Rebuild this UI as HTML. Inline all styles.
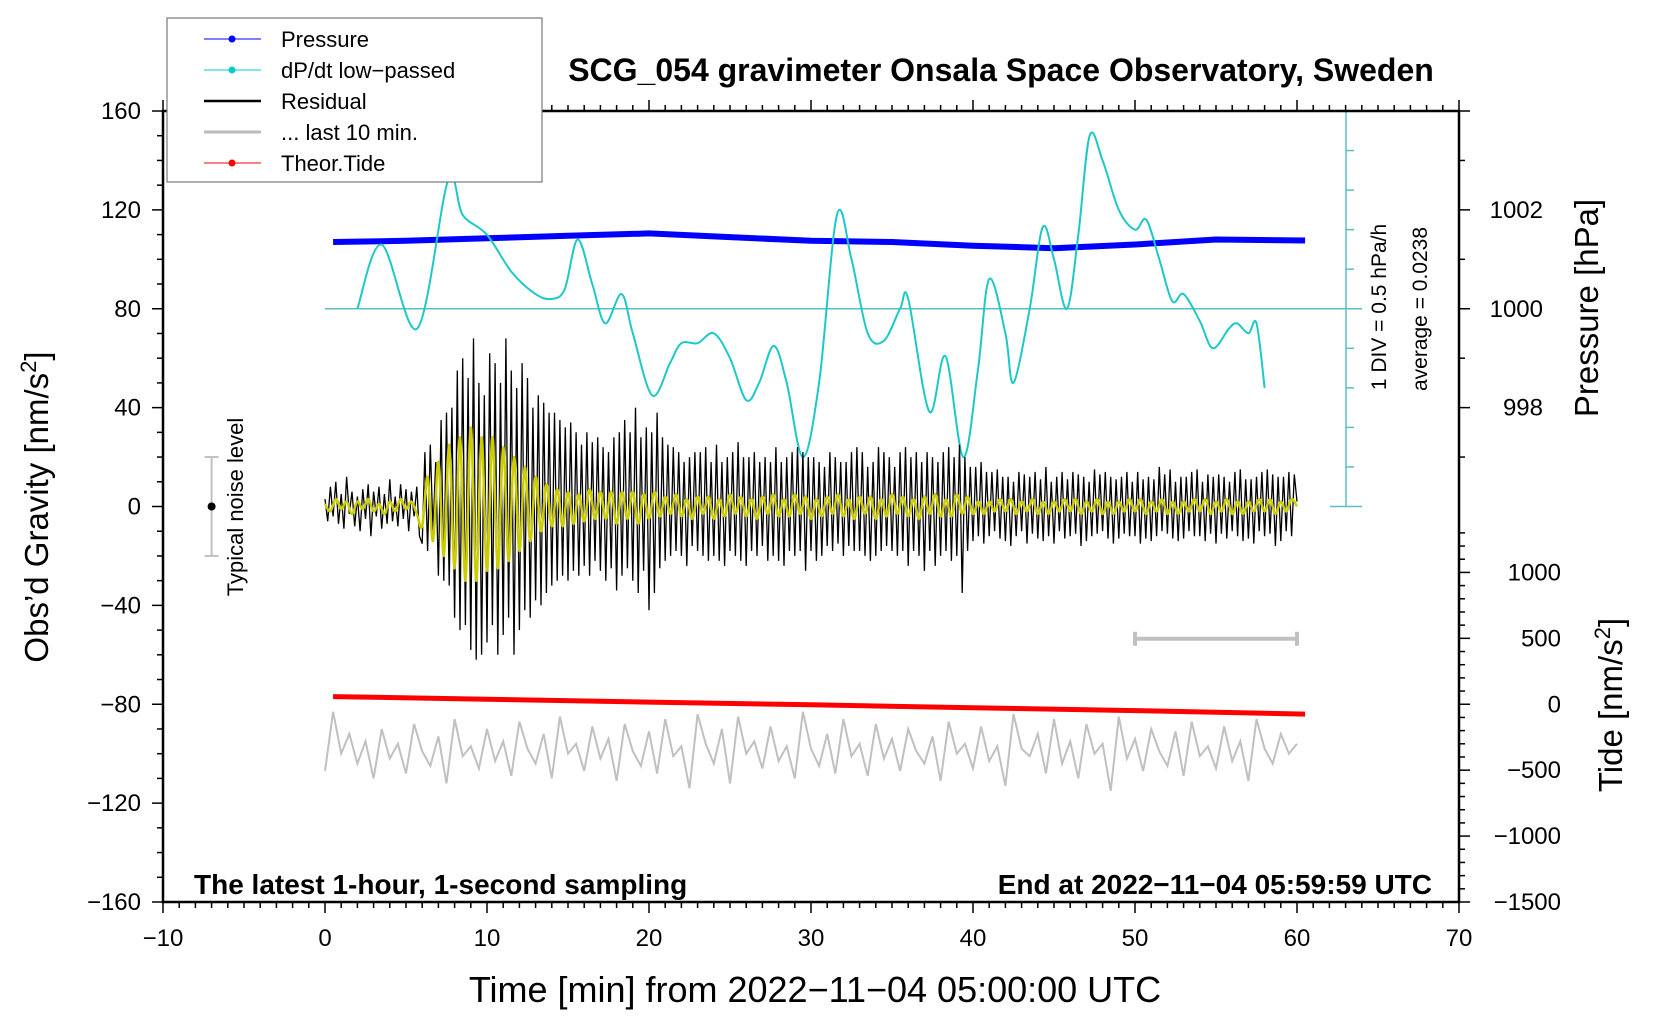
<!DOCTYPE html>
<html><head><meta charset="utf-8"><style>
html,body{margin:0;padding:0;background:#fff}
svg{display:block;font-family:"Liberation Sans",Arial,sans-serif}
</style></head><body>
<svg id="chart" width="1660" height="1020" viewBox="0 0 1660 1020" xmlns="http://www.w3.org/2000/svg">
<rect x="0" y="0" width="1660" height="1020" fill="#fff"/>
<g id="marks"></g>
<g id="axes"></g>
<text x="1001" y="81" font-size="32" font-weight="bold" text-anchor="middle">SCG_054 gravimeter Onsala Space Observatory, Sweden</text>
<text x="815" y="1002" font-size="36" text-anchor="middle">Time [min] from 2022−11−04 05:00:00 UTC</text>
<text transform="translate(48,507) rotate(-90)" font-size="33" text-anchor="middle">Obs’d Gravity [nm/s<tspan font-size="22" dy="-12">2</tspan><tspan dy="12">]</tspan></text>
<text transform="translate(1598,308) rotate(-90)" font-size="33" text-anchor="middle">Pressure [hPa]</text>
<text transform="translate(1622,705) rotate(-90)" font-size="33" text-anchor="middle">Tide [nm/s<tspan font-size="22" dy="-12">2</tspan><tspan dy="12">]</tspan></text>
<text transform="translate(1386,307) rotate(-90)" font-size="21" text-anchor="middle">1 DIV = 0.5 hPa/h</text>
<text transform="translate(1427,309) rotate(-90)" font-size="21" text-anchor="middle">average = 0.0238</text>
<text transform="translate(243,507) rotate(-90)" font-size="22" text-anchor="middle">Typical noise level</text>
<text x="194" y="894" font-size="28" font-weight="bold">The latest 1-hour, 1-second sampling</text>
<text x="1432" y="894" font-size="28" font-weight="bold" text-anchor="end">End at 2022−11−04 05:59:59 UTC</text>
<g>
<rect x="167" y="18" width="375" height="164" fill="#fff" stroke="#777" stroke-width="1.2"/>
<g><line x1="204" y1="39" x2="261" y2="39" stroke="#00f" stroke-width="1"/><circle cx="232" cy="39" r="3.5" fill="#00f"/><text x="281" y="47" font-size="22">Pressure</text></g>
<g><line x1="204" y1="70" x2="261" y2="70" stroke="#0cc" stroke-width="1"/><circle cx="232" cy="70" r="3.5" fill="#0cc"/><text x="281" y="78" font-size="22">dP/dt low−passed</text></g>
<g><line x1="204" y1="101" x2="261" y2="101" stroke="#000" stroke-width="2.5"/><text x="281" y="109" font-size="22">Residual</text></g>
<g><line x1="204" y1="132" x2="261" y2="132" stroke="#bbb" stroke-width="3"/><text x="281" y="140" font-size="22">... last 10 min.</text></g>
<g><line x1="204" y1="163" x2="261" y2="163" stroke="#f00" stroke-width="1"/><circle cx="232" cy="163" r="3.5" fill="#f00"/><text x="281" y="171" font-size="22">Theor.Tide</text></g>
</g>
</svg>
<script>
// ---- data ----
const residual = [3,-6,8,-4,10,-7, 5,-9,12,-3,6,-8, 4,-10,7,-5,9,-12, 6,-4,8,-9,5,-7, 11,-6,4,-8,9,-5, 7,-10,6,-4,8,-12,
-15,22,-18,25,-10,18, -28,35,-30,38,-32,40, -45,55,-50,60,-48,52, -58,68,-62,50,-60,45, -55,62,-48,58,-60,50,
-52,68,-45,55,-60,48, -50,58,-42,52,-45,40, -38,45,-40,42,-35,38, -32,38,-30,35,-28,32, -30,34,-26,30,-28,25,
-24,30,-28,26,-22,28, -26,24,-30,22,-25,28, -34,30,-28,35,-25,30, -30,40,-35,28,-26,32, -42,30,-35,38,-25,28,
-22,25,-20,24,-18,22, -20,18,-24,20,-16,22, -18,22,-20,24,-22,18, -20,25,-22,18,-24,20, -18,22,-20,26,-22,20,
-24,20,-18,22,-20,18, -16,20,-22,18,-20,24, -22,18,-24,20,-18,22, -20,24,-18,22,-26,20, -18,20,-22,18,-20,16,
-16,22,-18,20,-15,18, -20,18,-16,22,-18,24, -18,22,-20,16,-22,18, -20,24,-18,22,-16,20, -18,16,-20,22,-18,24,
-24,20,-18,22,-20,18, -26,22,-18,20,-24,18, -20,22,-18,24,-22,20, -20,25,-35,20,-18,16, -14,16,-12,18,-15,14,
-12,14,-10,15,-13,12, -14,12,-16,10,-12,14, -10,13,-15,12,-11,14, -13,11,-14,16,-12,10, -15,12,-10,14,-13,11,
-12,14,-11,13,-16,12, -14,10,-12,15,-11,13, -10,14,-13,12,-15,11, -13,12,-11,14,-12,10, -12,14,-15,11,-13,12,
-14,11,-12,16,-10,13, -11,15,-13,10,-14,12, -13,12,-10,14,-12,15, -12,10,-14,13,-11,12, -15,13,-11,12,-13,10,
-10,14,-12,15,-14,11, -13,11,-15,12,-10,14, -12,15,-11,13,-16,12, -14,12,-10,14,-12,13, 2];
const filtered = [1,-2,3,-1,2,-3,2,-1,3,-2,1,-3,2,-2,3,-1,2,-3,
-8,12,-14, 18,-20,25, -25,28,-30, 32,-30,28, -26,28,-25, 24,-22,20, -18,16,-14, 12,-10,9,
-8,7,-8, 6,-7,5, -6,7,-5, 6,-5,6, -7,6,-5, 6,-7,5, -5,6,-4,
4,-3,5,-4,3,-5,4,-3,4,-5,3,-4,5,-3,4,-4,3,-5,4,-3,5,-4,3,-4,5,-3,4,-5,3,-4,4,-3,5,-4,3,-5,4,-3,4,-5,3,-4,5,-3,4,-4,3,-5,4,-3,5,-4,3,-4,5,-3,4,
-3,2,-3,2,-2,3,-2,3,-3,2,-2,3,-3,2,-3,2,-2,3,-2,3,-3,2,-2,3,-3,2,-3,2,-2,3,-2,3,-3,2,-2,3,-3,2,-3,2,-2,3,-2,3,-3,2,-2,3,-3,2,-3,2,-2,3,-2,3,-3,2,-2,3, 0];
const last10 = [-107,-83,-100,-92,-104,-95,-110,-90,-102,-96,-108,-88,-99,-105,-93,-112,-86,-101,-97,-106,-90,-103,-95,-109,-87,-98,-104,-92,-110,-85,-100,-96,-107,-89,-102,-94,-111,-88,-99,-105,-91,-108,-86,-101,-97,-114,-84,-96,-104,-90,-112,-85,-100,-95,-106,-89,-103,-97,-110,-83,-98,-105,-92,-108,-86,-101,-96,-109,-88,-102,-94,-107,-90,-99,-104,-93,-111,-87,-100,-96,-106,-89,-103,-97,-113,-84,-98,-101,-92,-108,-86,-104,-95,-110,-88,-100,-96,-115,-85,-102,-94,-107,-90,-99,-105,-91,-109,-87,-101,-97,-106,-89,-103,-95,-111,-86,-98,-104,-92,-100,-96];
const pressureT = [0.5,5,10,15,20,25,30,35,40,45,50,55,60.5];
const pressureHpa = [1001.35,1001.375,1001.425,1001.475,1001.525,1001.45,1001.375,1001.35,1001.275,1001.225,1001.3,1001.4,1001.38];
const dpdtT = [2,3.5,5.7,7.6,8.5,10,11.5,13,14,14.8,15.6,16.5,17.3,18.3,19,20.2,21.3,22,23,24,25,26,26.8,27.7,28.5,29.5,30.5,31.6,32.5,33.5,34.5,35.5,36,37.3,38.3,39.4,40.3,41,42,42.5,43.5,44.3,45,45.8,46.5,47.2,48,49,50,50.7,51.5,52.3,53,54,54.8,55.8,56.3,57,57.5,58];
const dpdtDiv = [0,1.62,-0.5,3.25,2.37,1.87,0.94,0.37,0.25,0.5,1.75,0.62,-0.37,0.37,-0.62,-2.19,-1.37,-0.87,-0.87,-0.62,-1.25,-2.31,-1.87,-0.94,-1.87,-3.75,-1.87,2.37,1.25,-0.62,-0.81,0,0.25,-2.6,-1.2,-3.75,-1.56,0.75,-0.62,-1.87,0,2.06,1.25,0,1.87,4.37,3.75,2.5,2,2.25,1.25,0.19,0.37,-0.31,-1,-0.5,-0.37,-0.62,-0.37,-2];
const tideT = [0.5,10,20,30,40,50,60.5];
const tideNm = [58,38,16,-4,-26,-48,-75];
const xTicks = [-10,0,10,20,30,40,50,60,70];
const yTicks = [160,120,80,40,0,-40,-80,-120,-160];
const pTicks = [998,1000,1002];
const tideTicks = [1000,500,0,-500,-1000,-1500];

// ---- axes functions ----
const X0=163, X1=1459, Y0=111, Y1=902;
const xs = t => X0 + (t+10)*(X1-X0)/80;
const ys = g => Y0 + (160-g)*(Y1-Y0)/320;
const pToG = p => 80 + (p-1000)*20;
const tideToG = t => -80 + t*80/1500;
const divToG = d => 80 + d*16;
const NS='http://www.w3.org/2000/svg';
const marks=document.getElementById('marks'), axes=document.getElementById('axes');
function mk(tag, attrs, parent){const e=document.createElementNS(NS,tag);for(const k in attrs)e.setAttribute(k,attrs[k]);parent.appendChild(e);return e;}
function poly(pts){return pts.map(p=>p[0].toFixed(1)+','+p[1].toFixed(1)).join(' ');}
function smoothPath(pts){let d='M'+pts[0][0]+','+pts[0][1];for(let i=0;i<pts.length-1;i++){const p0=pts[Math.max(0,i-1)],p1=pts[i],p2=pts[i+1],p3=pts[Math.min(pts.length-1,i+2)];const c1=[p1[0]+(p2[0]-p0[0])/6,p1[1]+(p2[1]-p0[1])/6],c2=[p2[0]-(p3[0]-p1[0])/6,p2[1]-(p3[1]-p1[1])/6];d+=' C'+c1[0].toFixed(1)+','+c1[1].toFixed(1)+' '+c2[0].toFixed(1)+','+c2[1].toFixed(1)+' '+p2[0].toFixed(1)+','+p2[1].toFixed(1);}return d;}

let e;
e=mk('line',{x1:xs(0),y1:ys(80),x2:1362,y2:ys(80),stroke:'#5bbfbf','stroke-width':1.5},marks);


e=mk('line',{x1:1346,y1:ys(160),x2:1346,y2:ys(0),stroke:'#5bbfbf','stroke-width':1.5},marks);


for(let i=0;i<=10;i++){const g=160-i*16;const end=(i==0||i==10);mk('line',{x1:end?1330:1346,y1:ys(g),x2:end?1362:1354,y2:ys(g),stroke:'#5bbfbf','stroke-width':1.5},marks);}

e=mk('polyline',{points:poly(pressureT.map((t,i)=>[xs(t),ys(pToG(pressureHpa[i]))])),fill:'none',stroke:'#0000ff','stroke-width':6,'stroke-linejoin':'round'},marks);



e=mk('path',{d:smoothPath(dpdtT.map((t,i)=>[xs(t),ys(divToG(dpdtDiv[i]))])),fill:'none',stroke:'#1ec8c8','stroke-width':2},marks);



e=mk('polyline',{points:poly(residual.map((v,i)=>[xs(i*60/(residual.length-1)),ys(v)])),fill:'none',stroke:'#000','stroke-width':1.3},marks);


e=mk('path',{d:smoothPath(filtered.map((v,i)=>[xs(i*60/(filtered.length-1)),ys(v)])),fill:'none',stroke:'#cccc00','stroke-width':2.5},marks);



e=mk('polyline',{points:poly(tideT.map((t,i)=>[xs(t),ys(tideToG(tideNm[i]))])),fill:'none',stroke:'#ff0000','stroke-width':5},marks);



e=mk('polyline',{points:poly(last10.map((v,i)=>[xs(i*60/(last10.length-1)),ys(v)])),fill:'none',stroke:'#c0c0c0','stroke-width':2},marks);



e=mk('g',{},marks);


mk('line',{x1:xs(50),y1:ys(-53.5),x2:xs(60),y2:ys(-53.5),stroke:'#c0c0c0','stroke-width':4},e);
mk('line',{x1:xs(50),y1:ys(-53.5)-7,x2:xs(50),y2:ys(-53.5)+7,stroke:'#c0c0c0','stroke-width':4},e);
mk('line',{x1:xs(60),y1:ys(-53.5)-7,x2:xs(60),y2:ys(-53.5)+7,stroke:'#c0c0c0','stroke-width':4},e);

e=mk('g',{},marks);


mk('line',{x1:xs(-7),y1:ys(20),x2:xs(-7),y2:ys(-20),stroke:'#c0c0c0','stroke-width':2},e);
mk('line',{x1:xs(-7)-7,y1:ys(20),x2:xs(-7)+7,y2:ys(20),stroke:'#c0c0c0','stroke-width':2},e);
mk('line',{x1:xs(-7)-7,y1:ys(-20),x2:xs(-7)+7,y2:ys(-20),stroke:'#c0c0c0','stroke-width':2},e);
mk('circle',{cx:xs(-7),cy:ys(0),r:4,fill:'#000'},e);

e=mk('rect',{x:X0,y:Y0,width:X1-X0,height:Y1-Y0,fill:'none',stroke:'#000','stroke-width':2.5},axes);


for(let t=-10;t<=70;t++){const maj=(t%10===0);mk('line',{x1:xs(t),y1:Y1,x2:xs(t),y2:Y1+(maj?11:6),stroke:'#000','stroke-width':1.5},axes);mk('line',{x1:xs(t),y1:Y0,x2:xs(t),y2:Y0-(maj?11:6),stroke:'#000','stroke-width':1.5},axes);}
xTicks.forEach(t=>{const tx=mk('text',{x:xs(t),y:946,'font-size':24,'text-anchor':'middle'},axes);tx.textContent=String(t).replace('-','−');

});
for(let g=-160;g<=160;g+=10){const maj=(g%40===0);mk('line',{x1:X0,y1:ys(g),x2:X0-(maj?11:6),y2:ys(g),stroke:'#000','stroke-width':1.5},axes);}
yTicks.forEach(g=>{const tx=mk('text',{x:141,y:ys(g)+8,'font-size':24,'text-anchor':'end'},axes);tx.textContent=String(g).replace('-','−');

});
for(let p=997;p<=1004;p++){const maj=(p%2===0);mk('line',{x1:X1,y1:ys(pToG(p)),x2:X1+(maj?11:6),y2:ys(pToG(p)),stroke:'#000','stroke-width':1.5},axes);}
pTicks.forEach(p=>{const tx=mk('text',{x:1543,y:ys(pToG(p))+8,'font-size':24,'text-anchor':'end'},axes);tx.textContent=String(p);

});
for(let t=-1500;t<=1300;t+=100){const maj=(t%500===0);mk('line',{x1:X1,y1:ys(tideToG(t)),x2:X1+(maj?11:6),y2:ys(tideToG(t)),stroke:'#000','stroke-width':1.5},axes);}
tideTicks.forEach(t=>{const tx=mk('text',{x:1561,y:ys(tideToG(t))+8,'font-size':24,'text-anchor':'end'},axes);tx.textContent=String(t).replace('-','−');

});
</script>
</body></html>
